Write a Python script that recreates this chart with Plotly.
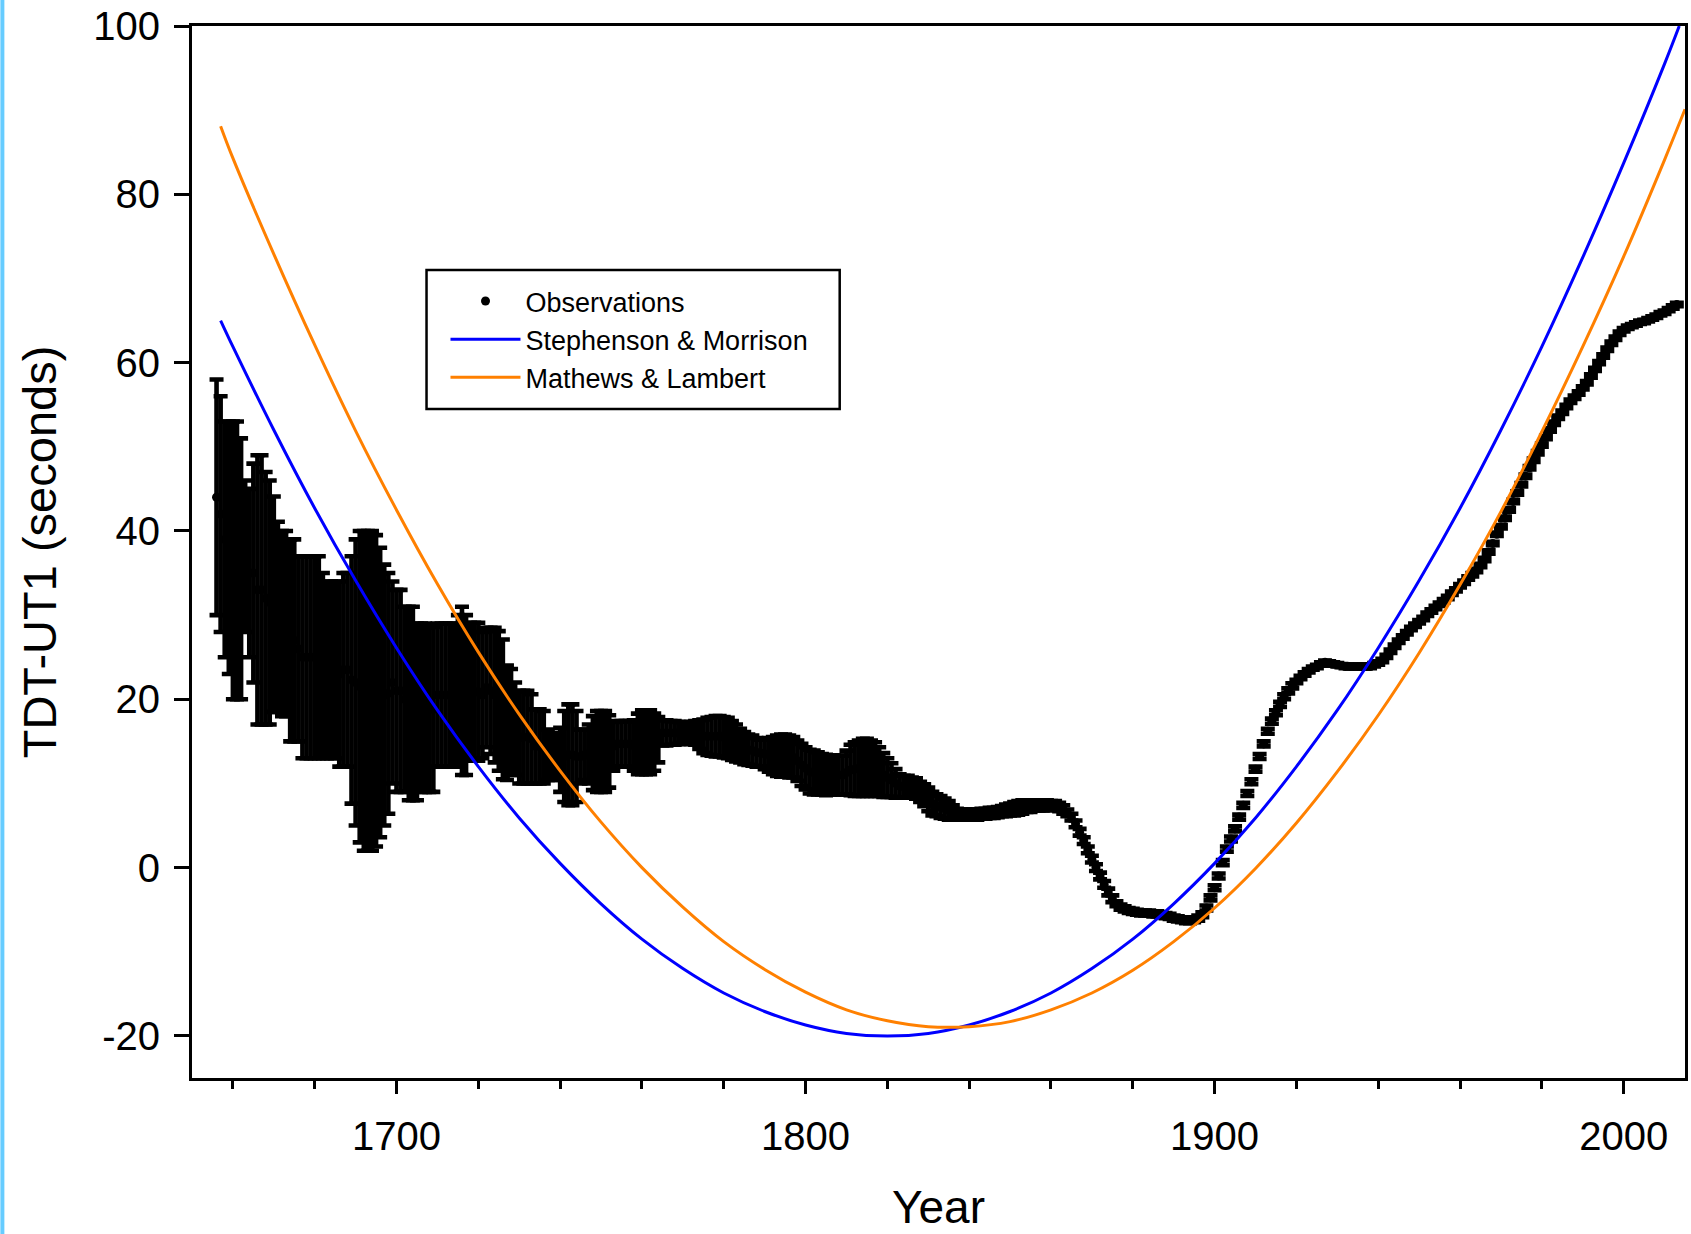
import plotly.graph_objects as go

# ---------------- data ----------------
obs_year = list(range(1656, 2014))
obs_value = [
    44.0, 42.0, 39.0, 38.0,                                       # 1656-1659
    36.5, 36.5, 35.5, 37.0, 35.0, 35.0, 33.0, 33.0, 32.0, 31.5,   # 1660-1669
    31.3, 29.8, 29.0, 29.0, 27.0, 27.0, 26.0, 25.0, 25.0, 25.0,   # 1670-1679
    25.0, 25.0, 24.0, 23.5, 23.5, 23.5, 23.0, 23.5, 23.5, 22.3,   # 1680-1689
    22.0, 21.5, 21.0, 21.0, 21.0, 21.0, 20.8, 20.5, 20.7, 22.0,   # 1690-1699
    21.0, 21.0, 20.0, 19.5, 19.5, 18.5, 19.0, 19.0, 18.8, 18.8,   # 1700-1709
    20.5, 20.5, 20.5, 20.5, 20.5, 21.0, 21.0, 20.5, 20.9, 20.9,   # 1710-1719
    20.9, 20.5, 21.4, 21.0, 20.5, 19.8, 18.8, 17.2, 17.3, 16.5,   # 1720-1729
    15.5, 15.5, 15.5, 15.3, 14.4, 14.4, 14.3, 13.4, 13.2, 13.0,   # 1730-1739
    12.8, 13.2, 13.4, 13.4, 13.2, 13.2, 13.4, 13.5, 13.6, 13.8,   # 1740-1749
    13.8, 13.8, 13.8, 14.4, 14.7, 14.7, 14.7, 14.7, 14.5, 14.7,   # 1750-1759
    14.9, 14.9, 14.9, 14.9, 15.2, 16.0, 16.0, 16.0, 16.0, 16.0,   # 1760-1769
    16.0, 16.0, 16.0, 16.0, 15.8, 15.6, 15.6, 15.6, 15.6, 15.6,   # 1770-1779
    15.5, 15.4, 15.1, 14.8, 14.5, 14.2, 14.0, 13.9, 13.7, 13.6,   # 1780-1789
    13.5, 13.4, 13.3, 13.3, 13.3, 13.3, 13.2, 13.1, 12.7, 12.2,   # 1790-1799
    11.8, 11.4, 11.3, 11.2, 11.1, 11.0, 11.0, 11.0, 11.0, 11.0,   # 1800-1809
    11.3, 11.6, 11.7, 11.8, 11.9, 11.9, 11.8, 11.7, 11.4, 11.0,   # 1810-1819
    10.7, 10.4, 10.0, 9.7, 9.6, 9.6, 9.5, 9.4, 9.0, 8.6,          # 1820-1829
    8.1, 7.6, 7.4, 7.2, 7.0, 6.8, 6.6, 6.4, 6.3, 6.3,             # 1830-1839
    6.3, 6.3, 6.3, 6.4, 6.4, 6.5, 6.5, 6.6, 6.7, 6.8,             # 1840-1849
    6.9, 7.0, 7.1, 7.2, 7.3, 7.3, 7.4, 7.4, 7.4, 7.4,             # 1850-1859
    7.4, 7.4, 7.2, 6.9, 6.5, 6.0, 5.2, 4.2, 3.2, 2.1,             # 1860-1869
    1.0, 0.0, -1.0, -2.0, -2.9, -3.7, -4.3, -4.7, -4.9, -5.1,     # 1870-1879
    -5.2, -5.3, -5.4, -5.4, -5.4, -5.5, -5.5, -5.6, -5.7, -5.8,   # 1880-1889
    -6.0, -6.1, -6.2, -6.3, -6.3, -6.2, -6.0, -5.6, -4.8, -3.6,   # 1890-1899
    -2.4, -1.0, 0.6, 2.2, 3.4, 4.6, 6.0, 7.4, 8.8, 10.2,          # 1900-1909
    11.7, 13.2, 14.7, 16.2, 17.4, 18.4, 19.4, 20.3, 21.0, 21.6,   # 1910-1919
    22.1, 22.6, 23.0, 23.4, 23.7, 23.9, 24.2, 24.4, 24.3, 24.2,   # 1920-1929
    24.1, 24.0, 23.9, 23.9, 23.9, 23.9, 23.9, 23.9, 23.9, 24.1,   # 1930-1939
    24.3, 24.6, 25.1, 25.7, 26.3, 26.9, 27.4, 27.9, 28.4, 28.8,   # 1940-1949
    29.2, 29.6, 30.1, 30.5, 30.9, 31.3, 31.7, 32.1, 32.6, 33.0,   # 1950-1959
    33.5, 33.9, 34.4, 34.8, 35.3, 35.9, 36.6, 37.5, 38.5, 39.6,   # 1960-1969
    40.5, 41.5, 42.5, 43.5, 44.5, 45.5, 46.5, 47.5, 48.4, 49.3,   # 1970-1979
    50.2, 51.1, 52.0, 52.8, 53.5, 54.1, 54.8, 55.4, 55.9, 56.4,   # 1980-1989
    57.0, 57.6, 58.4, 59.2, 60.0, 60.8, 61.6, 62.3, 62.9, 63.5,   # 1990-1999
    63.9, 64.2, 64.4, 64.6, 64.8, 64.9, 65.1, 65.3, 65.5, 65.8,   # 2000-2009
    66.0, 66.3, 66.6, 66.9,                                       # 2010-2013
]
obs_err = [
    14.0, 14.0, 14.0, 15.0,                                       # 1656-1659
    16.5, 16.5, 15.5, 9.0, 10.0, 13.0, 16.0, 16.0, 15.0, 14.5,    # 1660-1669
    12.8, 11.3, 11.0, 11.0, 12.0, 12.0, 11.0, 12.0, 12.0, 12.0,   # 1670-1679
    12.0, 12.0, 11.0, 10.5, 10.5, 10.5, 11.0, 11.5, 11.5, 14.7,   # 1680-1689
    17.0, 18.5, 19.0, 19.0, 19.0, 18.5, 17.2, 15.5, 14.3, 12.0,   # 1690-1699
    12.0, 12.0, 11.0, 11.5, 11.5, 10.5, 10.0, 10.0, 9.8, 9.8,     # 1700-1709
    8.5, 8.5, 8.5, 8.5, 8.5, 9.0, 10.0, 9.5, 8.2, 8.2,            # 1710-1719
    8.2, 7.5, 7.1, 7.5, 8.0, 8.3, 8.3, 6.8, 6.3, 5.5,             # 1720-1729
    5.5, 5.5, 5.5, 5.3, 4.4, 4.4, 4.3, 3.0, 2.8, 2.6,             # 1730-1739
    3.8, 5.4, 6.0, 6.0, 5.4, 3.2, 3.0, 3.5, 4.4, 4.8,             # 1740-1749
    4.8, 4.8, 4.3, 2.9, 2.7, 2.7, 2.7, 2.7, 3.0, 3.6,             # 1750-1759
    3.8, 3.8, 3.8, 3.4, 2.7, 1.5, 1.5, 1.4, 1.4, 1.3,             # 1760-1769
    1.3, 1.3, 1.3, 1.4, 1.7, 2.0, 2.2, 2.3, 2.4, 2.4,             # 1770-1779
    2.4, 2.4, 2.3, 2.2, 2.0, 1.9, 1.8, 1.8, 1.7, 1.6,             # 1780-1789
    1.8, 2.0, 2.2, 2.4, 2.5, 2.5, 2.5, 2.4, 2.4, 2.5,             # 1790-1799
    2.5, 2.6, 2.6, 2.5, 2.4, 2.4, 2.3, 2.3, 2.3, 2.3,             # 1800-1809
    2.6, 3.0, 3.2, 3.3, 3.4, 3.4, 3.3, 3.2, 2.9, 2.6,             # 1810-1819
    2.3, 2.0, 1.7, 1.4, 1.3, 1.3, 1.2, 1.2, 1.2, 1.3,             # 1820-1829
    1.4, 1.4, 1.3, 1.3, 1.2, 1.1, 0.8, 0.6, 0.6, 0.6,             # 1830-1839
    0.6, 0.6, 0.6, 0.6, 0.6, 0.6, 0.6, 0.6, 0.6, 0.7,             # 1840-1849
    0.7, 0.8, 0.8, 0.8, 0.7, 0.7, 0.6, 0.6, 0.6, 0.6,             # 1850-1859
    0.5, 0.5, 0.5, 0.5, 0.4, 0.4, 0.4, 0.4, 0.4, 0.4,             # 1860-1869
    0.4, 0.4, 0.4, 0.4, 0.4, 0.4, 0.3, 0.3, 0.3, 0.3,             # 1870-1879
    0.3, 0.3, 0.3, 0.3, 0.3, 0.3, 0.3, 0.3, 0.3, 0.3,             # 1880-1889
    0.3, 0.3, 0.3, 0.3, 0.3, 0.3, 0.3, 0.3, 0.3, 0.3,             # 1890-1899
    0.3, 0.3, 0.3, 0.3, 0.3, 0.3, 0.3, 0.3, 0.3, 0.3,             # 1900-1909
    0.3, 0.3, 0.3, 0.3, 0.3, 0.3, 0.3, 0.3, 0.3, 0.3,             # 1910-1919
    0.2, 0.2, 0.2, 0.2, 0.2, 0.2, 0.2, 0.2, 0.2, 0.2,             # 1920-1929
    0.2, 0.2, 0.2, 0.2, 0.2, 0.2, 0.2, 0.2, 0.2, 0.2,             # 1930-1939
    0.2, 0.2, 0.2, 0.2, 0.2, 0.2, 0.2, 0.2, 0.2, 0.2,             # 1940-1949
    0.2, 0.2, 0.2, 0.2, 0.2, 0.2, 0.2, 0.2, 0.2, 0.2,             # 1950-1959
    0.2, 0.2, 0.2, 0.2, 0.2, 0.2, 0.2, 0.2, 0.2, 0.2,             # 1960-1969
    0.2, 0.2, 0.2, 0.2, 0.2, 0.2, 0.2, 0.2, 0.2, 0.2,             # 1970-1979
    0.2, 0.2, 0.2, 0.2, 0.2, 0.2, 0.2, 0.2, 0.2, 0.2,             # 1980-1989
    0.2, 0.2, 0.2, 0.2, 0.2, 0.2, 0.2, 0.2, 0.2, 0.2,             # 1990-1999
    0.2, 0.2, 0.2, 0.2, 0.2, 0.2, 0.2, 0.2, 0.2, 0.2,             # 2000-2009
    0.2, 0.2, 0.2, 0.2,                                           # 2010-2013
]

sm_year = [1657, 1660, 1670, 1680, 1690, 1700, 1710, 1720, 1730, 1740, 1750,
           1760, 1770, 1780, 1790, 1800, 1810, 1820, 1830, 1840, 1850, 1860,
           1870, 1880, 1890, 1900, 1910, 1920, 1930, 1940, 1950, 1960, 1970,
           1980, 1990, 2000, 2010, 2013.6]
sm_value = [65.0, 61.9, 52.0, 42.7, 34.1, 26.1, 18.7, 12.0, 5.9, 0.5, -4.3,
            -8.5, -12.0, -14.9, -17.1, -18.7, -19.7, -20.0, -19.7, -18.7, -17.1,
            -14.9, -12.0, -8.5, -4.3, 0.5, 5.9, 12.0, 18.7, 26.1, 34.1, 42.7,
            52.0, 61.9, 72.5, 83.7, 95.5, 100.0]

ml_year = [1657, 1660, 1670, 1680, 1690, 1700, 1710, 1720, 1730, 1740, 1750,
           1760, 1770, 1780, 1790, 1800, 1810, 1820, 1830, 1840, 1850, 1860,
           1870, 1880, 1890, 1900, 1910, 1920, 1930, 1940, 1950, 1960, 1970,
           1980, 1990, 2000, 2010, 2015]
ml_value = [88.1, 84.3, 72.9, 62.1, 51.9, 42.5, 33.7, 25.6, 18.2, 11.5, 5.4,
            0.0, -4.7, -8.8, -12.1, -14.8, -16.9, -18.2, -18.9, -18.9, -18.3,
            -16.9, -14.9, -12.2, -8.8, -4.8, -0.1, 5.3, 11.4, 18.1, 25.5, 33.6,
            42.3, 51.8, 61.9, 72.6, 84.1, 90.1]

x_tick_vals = [1700, 1800, 1900, 2000]
x_tick_text = ["1700", "1800", "1900", "2000"]
y_tick_vals = [-20, 0, 20, 40, 60, 80, 100]
y_tick_text = ["-20", "0", "20", "40", "60", "80", "100"]

# ---------------- figure ----------------
W, H = 1691, 1234
L, R, T, B = 192, 3, 26, 156
PW, PH = W - L - R, H - T - B

def px(xp):
    return (xp - L) / PW

def py(yp):
    return (H - B - yp) / PH

FONT = "Liberation Sans, Arial, sans-serif"

fig = go.Figure()
fig.add_trace(go.Scatter(
    x=obs_year, y=obs_value, mode="markers", name="Observations",
    marker=dict(color="black", size=9, line=dict(width=0)),
    error_y=dict(type="data", array=obs_err, visible=True,
                 color="black", thickness=4.6, width=7),
))
fig.add_trace(go.Scatter(
    x=sm_year, y=sm_value, mode="lines", name="Stephenson & Morrison",
    line=dict(color="#0000ff", width=3, shape="spline"),
))
fig.add_trace(go.Scatter(
    x=ml_year, y=ml_value, mode="lines", name="Mathews & Lambert",
    line=dict(color="#ff8000", width=3, shape="spline"),
))

axis_common = dict(
    showline=True, linecolor="black", linewidth=3, mirror=True,
    showgrid=False, zeroline=False, ticks="outside", tickcolor="black",
    tickfont=dict(family=FONT, size=40, color="black"),
)

fig.update_layout(
    width=W, height=H,
    margin=dict(l=L, r=R, t=T, b=B, pad=0),
    paper_bgcolor="white", plot_bgcolor="white",
    font=dict(family=FONT, color="black"),
    xaxis=dict(
        range=[1650, 2015], tickvals=x_tick_vals, ticktext=x_tick_text,
        ticklen=13, tickwidth=2.5,
        minor=dict(dtick=20, tick0=1660, ticks="outside", ticklen=8,
                   tickwidth=2.5, tickcolor="black", showgrid=False),
        title=dict(text="Year", font=dict(family=FONT, size=46), standoff=34),
        ticklabelstandoff=8,
        **axis_common,
    ),
    yaxis=dict(
        range=[-25, 100], tickvals=y_tick_vals, ticktext=y_tick_text,
        ticklen=15, tickwidth=2.5,
        title=dict(text="TDT-UT1 (seconds)", font=dict(family=FONT, size=47),
                   standoff=22),
        ticklabelstandoff=6,
        **axis_common,
    ),
    showlegend=True,
    legend=dict(
        x=px(446), y=py(277), xanchor="left", yanchor="top",
        bgcolor="rgba(0,0,0,0)", borderwidth=0,
        font=dict(family=FONT, size=27, color="black"),
        itemwidth=70, tracegroupgap=0,
    ),
    shapes=[
        dict(type="rect", xref="paper", yref="paper",
             x0=px(427), x1=px(841), y0=py(409), y1=py(270),
             line=dict(color="black", width=2.5), fillcolor="white",
             layer="below"),
        dict(type="rect", xref="paper", yref="paper",
             x0=px(0), x1=px(4), y0=py(H), y1=py(0),
             line=dict(width=0), fillcolor="#66ccff"),
    ],
)

fig.write_html("out.html")
